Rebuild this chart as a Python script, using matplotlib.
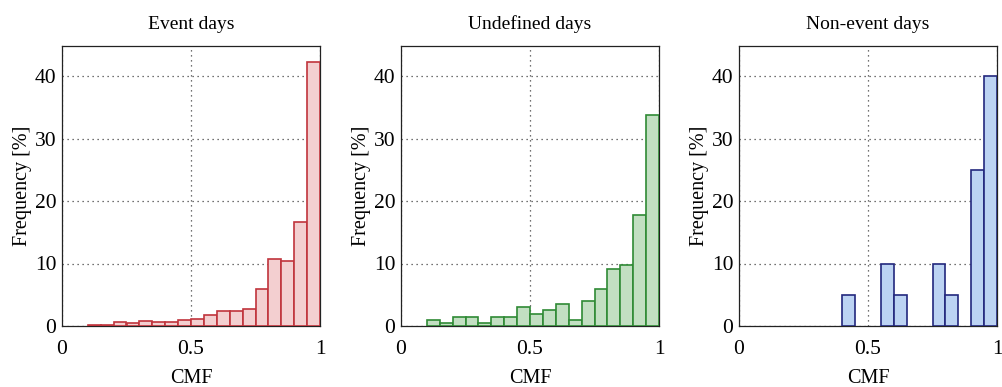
import numpy as np
import matplotlib
matplotlib.use("Agg")
import matplotlib.pyplot as plt

bin_edges = [round(0.05 * i, 2) for i in range(21)]
event_freq = [0, 0, 0.15, 0.15, 0.7, 0.5, 0.8, 0.6, 0.6, 1.0, 1.2, 1.7, 2.4, 2.4, 2.8, 5.9, 10.7, 10.4, 16.6, 42.3]
undef_freq = [0, 0, 1.0, 0.5, 1.5, 1.5, 0.5, 1.5, 1.5, 3.0, 2.0, 2.5, 3.5, 1.0, 4.0, 6.0, 9.2, 9.7, 17.7, 33.7]
nonevent_freq = [0, 0, 0, 0, 0, 0, 0, 0, 5, 0, 0, 10, 5, 0, 0, 10, 5, 0, 25, 40]
titles = ["Event days", "Undefined days", "Non-event days"]
xticks = [0, 0.5, 1]
xticklabels = ["0", "0.5", "1"]
yticks = [0, 10, 20, 30, 40]

series = [event_freq, undef_freq, nonevent_freq]
faces = ["#f3cfd0", "#c2dfc2", "#bcd3f3"]
edges = ["#c0343c", "#2f8a35", "#23287e"]

plt.rcParams['font.family'] = ['Liberation Serif', 'DejaVu Serif']
fig = plt.figure(figsize=(10.02, 3.87), dpi=100)
W, H = 1002, 387
lefts = [62, 401, 739]
aw = 258
top, bottom = 46, 326

for i in range(3):
    ax = fig.add_axes([lefts[i] / W, 1 - bottom / H, aw / W, (bottom - top) / H])
    left_e = np.array(bin_edges[:-1])
    widths = np.diff(bin_edges)
    vals = np.array(series[i])
    mask = vals > 0
    ax.bar(left_e[mask], vals[mask], width=widths[mask], align='edge',
           color=faces[i], edgecolor=edges[i], linewidth=1.2, zorder=3)
    ax.set_xlim(0, 1)
    ax.set_ylim(0, 44.8)
    ax.set_xticks(xticks)
    ax.set_xticklabels(xticklabels)
    ax.set_yticks(yticks)
    ax.grid(True, linestyle=(0, (1, 3)), color='#444444', linewidth=0.9, zorder=0)
    ax.tick_params(axis='both', labelsize=15.5, length=0)
    ax.tick_params(axis='x', pad=10)
    ax.tick_params(axis='y', pad=4)
    ax.set_xlabel("CMF", fontsize=14.5, labelpad=7)
    ax.set_ylabel("Frequency [%]", fontsize=14.5, labelpad=2)
    ax.set_title(titles[i], fontsize=14, pad=12)
    for s in ax.spines.values():
        s.set_linewidth(0.9)
        s.set_color('#222222')

fig.savefig("out.png", dpi=100)
